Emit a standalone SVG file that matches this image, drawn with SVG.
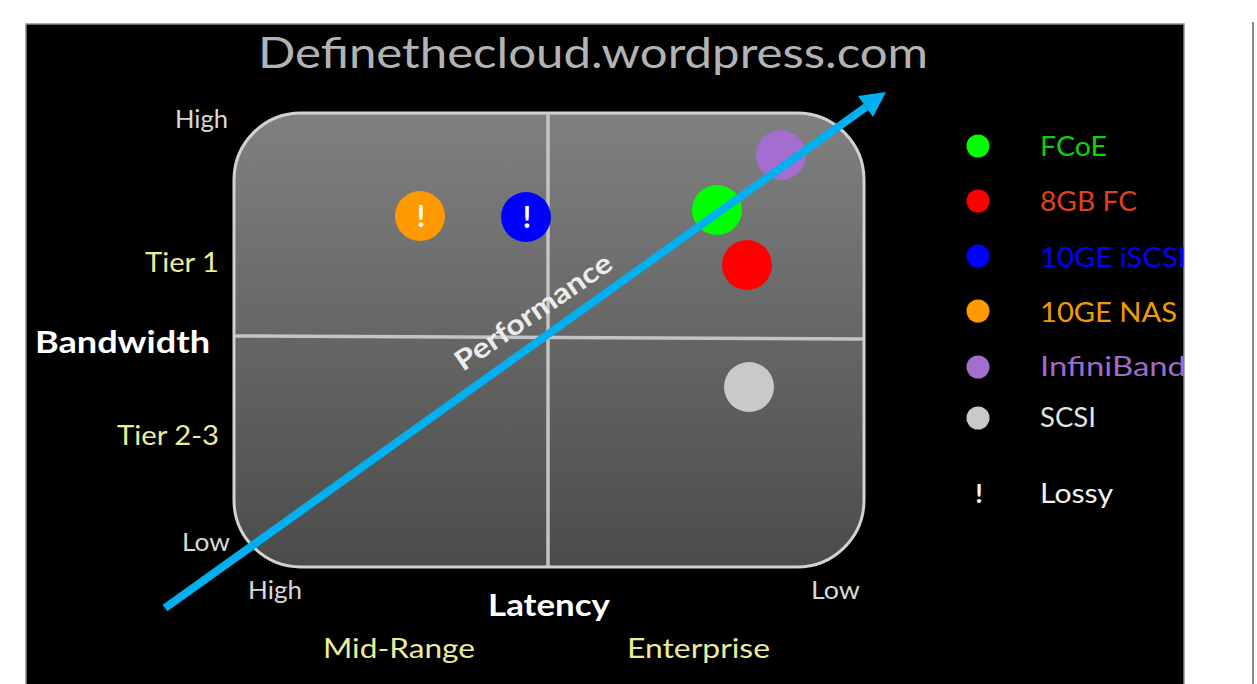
<svg xmlns="http://www.w3.org/2000/svg" width="1257" height="684" viewBox="0 0 1257 684">
  <defs>
    <linearGradient id="panelFill" x1="0" y1="0" x2="0" y2="1">
      <stop offset="0" stop-color="#808080"/>
      <stop offset="1" stop-color="#4b4b4b"/>
    </linearGradient>
    <clipPath id="slideClip">
      <rect x="26" y="24" width="1158" height="660"/>
    </clipPath>
    <style>
      .t { font-family: Lato, "Open Sans", "Liberation Sans", sans-serif; }
      .axis { fill: #d8d8d8; font-size: 25px; }
      .tier { fill: #ecec9a; font-size: 27px; }
      .head { fill: #ffffff; font-size: 30px; font-weight: bold; }
      .leg { font-size: 27px; }
      .bang { fill: #ffffff; font-size: 30px; font-weight: bold; text-anchor: middle; }
      .grid { stroke: #c4c4c4; stroke-width: 3.5; fill: none; }
    </style>
  </defs>

  <!-- page -->
  <rect x="0" y="0" width="1257" height="684" fill="#ffffff"/>
  <line x1="1253" y1="22" x2="1253" y2="684" stroke="#8a8a8a" stroke-width="2"/>

  <!-- slide background -->
  <rect x="26" y="24" width="1158" height="670" fill="#000000" stroke="#8c8c8c" stroke-width="1.5"/>

  <g clip-path="url(#slideClip)">
    <!-- title -->
    <text id="title" class="t" x="258" y="68" font-size="43" fill="#b3b3b3" textLength="670" lengthAdjust="spacingAndGlyphs">Definethecloud.wordpress.com</text>

    <!-- quadrant panel -->
    <g id="panel">
      <rect x="234" y="113" width="630" height="454" rx="67" ry="67" fill="url(#panelFill)" stroke="#d2d2d2" stroke-width="3"/>
      <line class="grid" x1="548" y1="114" x2="548" y2="566"/>
      <line class="grid" x1="235" y1="336" x2="863" y2="339"/>
    </g>

    <!-- axis labels -->
    <g id="axis-bandwidth">
      <text class="t axis" x="175" y="128" textLength="53" lengthAdjust="spacingAndGlyphs">High</text>
      <text class="t tier" x="145" y="272" textLength="74" lengthAdjust="spacingAndGlyphs">Tier 1</text>
      <text class="t head" x="35" y="353" textLength="175" lengthAdjust="spacingAndGlyphs">Bandwidth</text>
      <text class="t tier" x="117" y="445" textLength="102" lengthAdjust="spacingAndGlyphs">Tier 2-3</text>
      <text class="t axis" x="182" y="551" textLength="48" lengthAdjust="spacingAndGlyphs">Low</text>
    </g>
    <g id="axis-latency">
      <text class="t axis" x="248" y="599" textLength="54" lengthAdjust="spacingAndGlyphs">High</text>
      <text class="t head" x="488" y="616" textLength="122" lengthAdjust="spacingAndGlyphs">Latency</text>
      <text class="t axis" x="811" y="599" textLength="49" lengthAdjust="spacingAndGlyphs">Low</text>
      <text class="t tier" x="323" y="658" textLength="152" lengthAdjust="spacingAndGlyphs">Mid-Range</text>
      <text class="t tier" x="627" y="658" textLength="143" lengthAdjust="spacingAndGlyphs">Enterprise</text>
    </g>

    <!-- plotted technologies -->
    <g id="node-10ge-nas">
      <circle cx="420" cy="216" r="25" fill="#ff9900"/>
      <text class="t bang" x="421" y="227">!</text>
    </g>
    <g id="node-10ge-iscsi">
      <circle cx="526" cy="217" r="25" fill="#0000ff"/>
      <text class="t bang" x="527" y="228">!</text>
    </g>
    <g id="node-infiniband">
      <circle cx="781" cy="155" r="25" fill="#a46dd0"/>
    </g>
    <g id="node-fcoe">
      <circle cx="717" cy="210" r="25" fill="#00ff00"/>
    </g>
    <g id="node-8gb-fc">
      <circle cx="747" cy="265" r="25" fill="#ff0000"/>
    </g>
    <g id="node-scsi">
      <circle cx="749" cy="387" r="25" fill="#c9c9c9"/>
    </g>

    <!-- performance trend arrow -->
    <g id="connectors">
      <line x1="165" y1="608" x2="866" y2="107" stroke="#00b0f0" stroke-width="8"/>
      <polygon points="886,92 858,96 873,117" fill="#00b0f0"/>
      <text class="t" x="0" y="0" font-size="28" font-weight="bold" fill="#ececec" textLength="184" lengthAdjust="spacingAndGlyphs" transform="translate(463,372) rotate(-34.5)">Performance</text>
    </g>

    <!-- legend -->
    <g id="legend">
      <g id="legend-fcoe">
        <circle cx="978" cy="146" r="11.5" fill="#00ff00"/>
        <text class="t leg" x="1040" y="156" fill="#10d010" textLength="67" lengthAdjust="spacingAndGlyphs">FCoE</text>
      </g>
      <g id="legend-8gb-fc">
        <circle cx="978" cy="201" r="11.5" fill="#ff0000"/>
        <text class="t leg" x="1040" y="211" fill="#e2401a" textLength="97" lengthAdjust="spacingAndGlyphs">8GB FC</text>
      </g>
      <g id="legend-10ge-iscsi">
        <circle cx="978" cy="256" r="11.5" fill="#0000ff"/>
        <text class="t leg" x="1040" y="267" fill="#0000ff" textLength="146" lengthAdjust="spacingAndGlyphs">10GE iSCSI</text>
      </g>
      <g id="legend-10ge-nas">
        <circle cx="978" cy="311" r="11.5" fill="#ff9900"/>
        <text class="t leg" x="1040" y="322" fill="#f09c00" textLength="137" lengthAdjust="spacingAndGlyphs">10GE NAS</text>
      </g>
      <g id="legend-infiniband">
        <circle cx="978" cy="367" r="11.5" fill="#a46dd0"/>
        <text class="t leg" x="1040" y="376" fill="#9e6cc9" textLength="146" lengthAdjust="spacingAndGlyphs">InfiniBand</text>
      </g>
      <g id="legend-scsi">
        <circle cx="978" cy="418" r="11.5" fill="#c9c9c9"/>
        <text class="t leg" x="1040" y="427" fill="#e2e2e2" textLength="56" lengthAdjust="spacingAndGlyphs">SCSI</text>
      </g>
      <g id="legend-lossy">
        <text class="t leg" x="979" y="503" fill="#f2f2f2" text-anchor="middle" font-weight="bold">!</text>
        <text class="t leg" x="1040" y="503" fill="#f2f2f2" textLength="73" lengthAdjust="spacingAndGlyphs">Lossy</text>
      </g>
    </g>
  </g>
</svg>
